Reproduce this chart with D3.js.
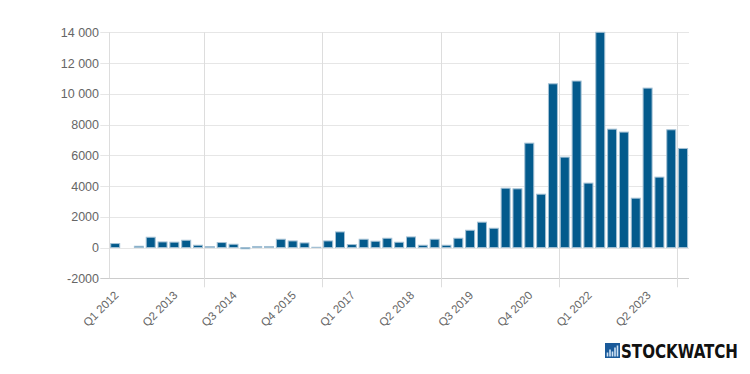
<!DOCTYPE html>
<html>
<head>
<meta charset="utf-8">
<script src="https://cdn.jsdelivr.net/npm/d3@7/dist/d3.min.js"></script>
<style>
  body { margin: 0; background: #fff; }
  svg { display: block; font-family: "Liberation Sans", Arial, sans-serif; }
</style>
</head>
<body>
<div id="chart"></div>
<script>
// quarterly values, Q1 2012 .. Q1 2024
var quarters = [];
for (var yr = 2012; yr <= 2024; yr++) {
    for (var q = 1; q <= 4; q++) {
        if (yr === 2024 && q > 1) break;
        quarters.push('Q' + q + ' ' + yr);
    }
}
var values = [
    260, 0, 85, 670, 365, 350, 475, 150, 65, 325,
    215, -80, 70, 70, 540, 430, 300, 20, 430, 1015,
    195, 540, 410, 605, 345, 690, 150, 540, 150, 605,
    1125, 1650, 1255, 3860, 3820, 6790, 3470, 10650, 5880, 10830,
    4190, 14000, 7700, 7510, 3210, 10370, 4580, 7660, 6445
];
var yTicks = [-2000, 0, 2000, 4000, 6000, 8000, 10000, 12000, 14000];
var labelEvery = 5;
var gridAt = [8, 18, 28, 38, 48];

var W = 750, H = 374;
var plotL = 109.3, plotR = 689, plotT = 32.3, plotB = 278.3;

var svg = d3.select('#chart').append('svg')
    .attr('width', W)
    .attr('height', H);

var x = d3.scaleBand()
    .domain(quarters)
    .range([plotL, plotR])
    .paddingInner(0.24)
    .paddingOuter(0.12);

var y = d3.scaleLinear()
    .domain([-2000, 14000])
    .range([plotB, plotT]);

var step = (plotR - plotL) / quarters.length;

function fmt(v) {
    if (Math.abs(v) >= 10000) return d3.format(',')(v).replace(/,/g, ' ');
    return String(v);
}

// horizontal grid
svg.append('g').selectAll('line')
    .data(yTicks)
    .enter()
    .append('line')
    .attr('x1', plotL - 9)
    .attr('x2', plotR)
    .attr('y1', function(d) { return Math.round(y(d)) + 0.5; })
    .attr('y2', function(d) { return Math.round(y(d)) + 0.5; })
    .attr('stroke', function(d) { return d === -2000 ? '#cccccc' : '#e6e6e6'; })
    .attr('stroke-width', 1);

// vertical grid
svg.append('g').selectAll('line')
    .data(gridAt)
    .enter()
    .append('line')
    .attr('x1', function(d) { return Math.round(plotL + d * step) + 0.5; })
    .attr('x2', function(d) { return Math.round(plotL + d * step) + 0.5; })
    .attr('y1', plotT)
    .attr('y2', plotB + 9)
    .attr('stroke', '#dddddd');

svg.append('line')
    .attr('x1', Math.round(plotL) + 0.5)
    .attr('x2', Math.round(plotL) + 0.5)
    .attr('y1', plotT)
    .attr('y2', plotB)
    .attr('stroke', '#dddddd');

// y labels
svg.append('g').selectAll('text')
    .data(yTicks)
    .enter()
    .append('text')
    .attr('x', 99)
    .attr('y', function(d) { return y(d) + 4.5; })
    .attr('text-anchor', 'end')
    .attr('fill', '#666666')
    .style('font-size', '12.5px')
    .text(fmt);

// bars
svg.append('g').selectAll('rect')
    .data(values)
    .enter()
    .append('rect')
    .attr('x', function(d, i) { return x(quarters[i]); })
    .attr('width', x.bandwidth())
    .attr('y', function(d) { return y(Math.max(0, d)); })
    .attr('height', function(d) { return Math.abs(y(d) - y(0)); })
    .attr('fill', '#035a8c')
    .attr('stroke', '#a3c0d4')
    .attr('stroke-width', 1);

// x labels
svg.append('g').selectAll('text')
    .data(quarters.filter(function(d, i) { return i % labelEvery === 0; }))
    .enter()
    .append('text')
    .attr('transform', function(d) {
        var cx = x(d) + x.bandwidth() / 2 + 4;
        return 'translate(' + cx + ',' + 296 + ') rotate(-45)';
    })
    .attr('text-anchor', 'end')
    .attr('fill', '#666666')
    .style('font-size', '11.5px')
    .text(function(d) { return d; });

// logo
var logo = svg.append('g').attr('transform', 'translate(605,343)');
logo.append('rect')
    .attr('width', 15).attr('height', 15)
    .attr('fill', '#1a5a9a');
[2.5, 5, 7.5, 10, 12.5].forEach(function(bx, i) {
    var hs = [4, 7, 5, 9, 11];
    logo.append('rect')
        .attr('x', bx - 0.8).attr('y', 13.5 - hs[i])
        .attr('width', 1.6).attr('height', hs[i])
        .attr('fill', '#cfe3f5');
});
logo.append('text')
    .attr('transform', 'translate(16,14.5) scale(1,1.1)')
    .attr('textLength', 117)
    .attr('lengthAdjust', 'spacingAndGlyphs')
    .attr('fill', '#111111')
    .style('font-family', '"DejaVu Sans Condensed", "DejaVu Sans", sans-serif')
    .style('font-weight', 'bold')
    .style('font-size', '18px')
    .text('STOCKWATCH');
</script>
</body>
</html>
